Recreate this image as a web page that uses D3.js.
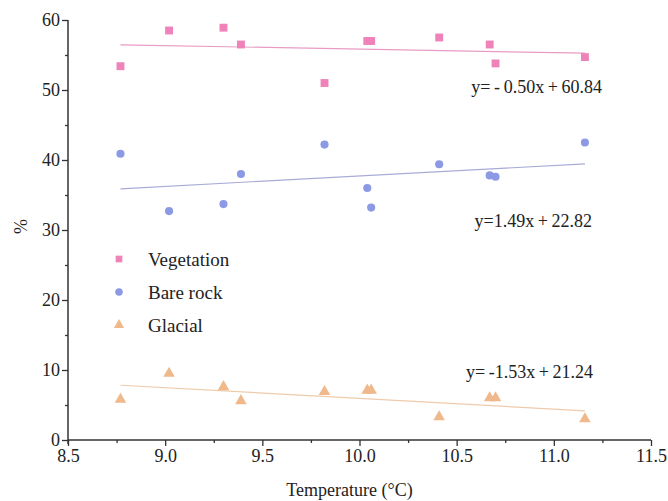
<!DOCTYPE html>
<html>
<head>
<meta charset="utf-8">
<script src="https://cdn.jsdelivr.net/npm/d3@7"></script>
<style>
  body { margin: 0; background: #fff; }
</style>
</head>
<body>
<div id="chart"></div>
<script>
// 数据
var temperature = [8.77, 9.02, 9.30, 9.39, 9.82, 10.04, 10.06, 10.41, 10.67, 10.70, 11.16];
var vegetation  = [53.4, 58.5, 58.9, 56.5, 51.0, 57.0, 57.0, 57.5, 56.5, 53.8, 54.7];
var bareRock    = [40.9, 32.7, 33.7, 38.0, 42.2, 36.0, 33.2, 39.4, 37.8, 37.6, 42.5];
var glacial     = [5.8, 9.5, 7.6, 5.6, 6.9, 7.1, 7.1, 3.3, 6.0, 6.0, 3.0];

var seriesNames = ["Vegetation", "Bare rock", "Glacial"];
var slopes      = [-0.50, 1.49, -1.53];
var intercepts  = [60.84, 22.82, 21.24];
var equations   = ["y=\u2009-\u20090.50x\u2009+\u200960.84", "y=1.49x\u2009+\u200922.82", "y=\u2009-1.53x\u2009+\u200921.24"];

var xTicks = [8.5, 9.0, 9.5, 10.0, 10.5, 11.0, 11.5];
var yTicks = [0, 10, 20, 30, 40, 50, 60];

var colors = ["#ee82b9", "#8c9ae6", "#efb98b"];
var lineColors = ["#e89cc4", "#a9abd6", "#eecbab"];

var FONT = "Liberation Serif";

var W = 668, H = 501;
var margin = { top: 20, right: 17, bottom: 61, left: 68 };
var width = W - margin.left - margin.right;
var height = H - margin.top - margin.bottom;

var svg = d3.select("#chart").append("svg")
    .attr("width", W)
    .attr("height", H)
    .attr("font-family", FONT);

var g = svg.append("g")
    .attr("transform", "translate(" + margin.left + "," + margin.top + ")");

var x = d3.scaleLinear().domain([8.5, 11.5]).range([0, width]);
var y = d3.scaleLinear().domain([0, 60]).range([height, 0]);

// 坐标轴
var xAxis = g.append("g")
    .attr("transform", "translate(0," + height + ")")
    .call(d3.axisBottom(x).tickValues(xTicks).tickFormat(d3.format(".1f")).tickSize(6).tickPadding(3));
g.append("g")
    .attr("transform", "translate(0," + height + ")")
    .call(d3.axisBottom(x).tickValues(d3.range(8.75, 11.5, 0.5)).tickFormat("").tickSize(3))
    .select(".domain").remove();

var yAxis = g.append("g")
    .call(d3.axisLeft(y).tickValues(yTicks).tickSize(6).tickPadding(2));
g.append("g")
    .call(d3.axisLeft(y).tickValues(d3.range(5, 60, 10)).tickFormat("").tickSize(3))
    .select(".domain").remove();

g.selectAll("g").attr("font-family", FONT).attr("font-size", 18);
g.selectAll(".domain").attr("stroke", "#333").attr("stroke-width", 1.5);
g.selectAll(".tick line").attr("stroke", "#333").attr("stroke-width", 1.3);
g.selectAll(".tick text")
    .attr("font-family", FONT)
    .attr("font-size", 18)
    .attr("fill", "#222");
xAxis.selectAll(".domain").attr("d", "M0,0H" + width);
yAxis.selectAll(".domain").attr("d", "M0," + (height + 4) + "V0");

// 轴标签
svg.append("text")
    .attr("x", margin.left + width / 2 - 10)
    .attr("y", 496)
    .attr("text-anchor", "middle")
    .attr("font-family", FONT)
    .attr("font-size", 18)
    .attr("fill", "#222")
    .text("Temperature (\u00B0C)");
svg.append("text")
    .attr("transform", "translate(27," + (margin.top + y(30.5)) + ") rotate(-90)")
    .attr("text-anchor", "middle")
    .attr("font-family", FONT)
    .attr("font-size", 18)
    .attr("fill", "#222")
    .text("%");

// 趋势线
var xmin = d3.min(temperature), xmax = d3.max(temperature);
slopes.forEach(function (s, i) {
    g.append("line")
        .attr("x1", x(xmin)).attr("y1", y(s * xmin + intercepts[i]))
        .attr("x2", x(xmax)).attr("y2", y(s * xmax + intercepts[i]))
        .attr("stroke", lineColors[i])
        .attr("stroke-width", 1.2);
});

// 散点
var allSeries = [vegetation, bareRock, glacial];
var symbols = [d3.symbolSquare, d3.symbolCircle, d3.symbolTriangle];
var sizes = [62, 52, 58];
allSeries.forEach(function (vals, i) {
    g.selectAll(".dot" + i)
        .data(vals)
        .enter().append("path")
        .attr("class", "dot" + i)
        .attr("d", d3.symbol().type(symbols[i]).size(sizes[i]))
        .attr("transform", function (d, j) {
            return "translate(" + x(temperature[j]) + "," + y(d) + ")";
        })
        .attr("fill", colors[i]);
});

// 回归方程
var eqPos = [[602, 93], [592, 227], [593, 378]];
equations.forEach(function (t, i) {
    svg.append("text")
        .attr("x", eqPos[i][0])
        .attr("y", eqPos[i][1])
        .attr("text-anchor", "end")
        .attr("font-family", FONT)
        .attr("font-size", 18)
        .attr("fill", "#222")
        .text(t);
});

// 图例
var legend = svg.append("g").attr("transform", "translate(119,259)");
seriesNames.forEach(function (name, i) {
    var row = legend.append("g").attr("transform", "translate(0," + (i * 33) + ")");
    row.append("path")
        .attr("d", d3.symbol().type(symbols[i]).size(45))
        .attr("fill", colors[i]);
    row.append("text")
        .attr("x", 29)
        .attr("y", 7)
        .attr("font-family", FONT)
        .attr("font-size", 19)
        .attr("fill", "#222")
        .text(name);
});
</script>
</body>
</html>
